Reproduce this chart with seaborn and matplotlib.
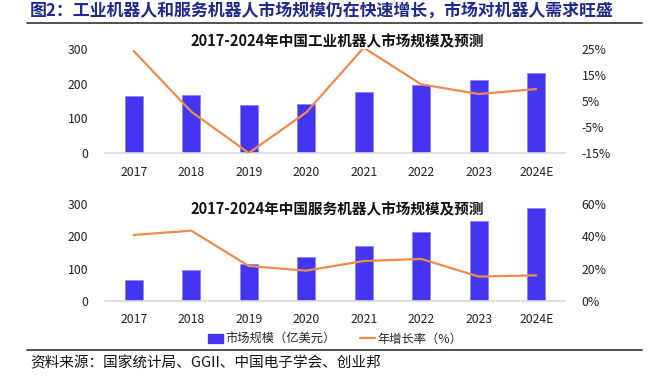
import matplotlib
matplotlib.use("Agg")
import matplotlib.pyplot as plt
import matplotlib.ticker as mticker
from matplotlib.lines import Line2D
from matplotlib.patches import Patch
import seaborn as sns

# -- data
years = ["2017", "2018", "2019", "2020", "2021", "2022", "2023", "2024E"]
ind_size = [164, 166, 138, 140, 177, 196, 210, 230]
ind_growth = [24.2, 0.9, -15.0, 0.6, 25.5, 11.4, 7.7, 9.6]
svc_size = [65, 94, 114, 136, 170, 215, 249, 288]
svc_growth = [40.9, 43.6, 21.6, 18.7, 24.7, 26.0, 15.0, 15.8]

ind_title = "2017-2024年中国工业机器人市场规模及预测"
svc_title = "2017-2024年中国服务机器人市场规模及预测"
fig_title = "图2：工业机器人和服务机器人市场规模仍在快速增长，市场对机器人需求旺盛"
source = "资料来源：国家统计局、GGII、中国电子学会、创业邦"
bar_label = "市场规模（亿美元）"
line_label = "年增长率（%）"

BAR = "#4436F0"
LINE = "#F08A4B"

sns.set_theme(style="white")
plt.rcParams["font.family"] = ["Noto Sans CJK SC", "DejaVu Sans"]
plt.rcParams["axes.unicode_minus"] = False

W, H = 656, 389
fig = plt.figure(figsize=(W / 100, H / 100), dpi=100)


def panel(rect, sizes, growth, gticks, title, title_y):
    ax = fig.add_axes(rect)
    sns.barplot(x=years, y=sizes, color=BAR, width=0.32, ax=ax,
                edgecolor="#8C86F8", linewidth=0.6, saturation=1)
    ax.set_ylim(0, 300)
    ax.set_yticks([0, 100, 200, 300])
    ax.set_xlim(-0.5, 7.5)
    ax2 = ax.twinx()
    sns.lineplot(x=list(range(len(years))), y=growth, color=LINE,
                 linewidth=1.6, ax=ax2)
    ax2.set_ylim(gticks[0], gticks[-1])
    ax2.set_yticks(gticks)
    ax2.yaxis.set_major_formatter(mticker.FuncFormatter(lambda v, p: f"{v:.0f}%"))
    for a in (ax, ax2):
        for s in ("top", "left", "right"):
            a.spines[s].set_visible(False)
        a.spines["bottom"].set_color("#D9D9D9")
        a.spines["bottom"].set_linewidth(1.2)
        a.tick_params(axis="both", length=0, labelsize=8.8, colors="#222222")
        a.set_xlabel("")
        a.set_ylabel("")
    ax.tick_params(axis="y", pad=12)
    ax.tick_params(axis="x", pad=9)
    ax2.tick_params(axis="y", pad=12)
    ax2.spines["bottom"].set_visible(False)
    fig.text(337 / W, 1 - title_y / H, title, ha="center", va="center",
             fontsize=10.5, fontweight="bold", color="#111111")
    return ax


panel([105 / W, 1 - 153 / H, 460 / W, 104 / H], ind_size, ind_growth,
      [-15, -5, 5, 15, 25], ind_title, 41)
panel([105 / W, 1 - 300.7 / H, 460 / W, 96.4 / H], svc_size, svc_growth,
      [0, 20, 40, 60], svc_title, 209)

# main title and rules
fig.text(30 / W, 1 - 11 / H, fig_title, ha="left", va="center",
         fontsize=12.2, fontweight="bold", color="#1F2A8C")
fig.add_artist(Line2D([27 / W, 642 / W], [1 - 22.7 / H] * 2,
                      color="#333333", linewidth=1.2))
fig.add_artist(Line2D([27 / W, 642 / W], [1 - 350 / H] * 2,
                      color="#333333", linewidth=1.2))

handles = [Patch(facecolor=BAR, edgecolor=BAR, label=bar_label),
           Line2D([0], [0], color=LINE, linewidth=1.6, label=line_label)]
fig.legend(handles=handles, loc="center", bbox_to_anchor=(335 / W, 1 - 339 / H),
           ncol=2, frameon=False, fontsize=8.8, handlelength=1.2,
           handletextpad=0.2, columnspacing=2.0)

fig.text(30 / W, 1 - 363 / H, source, ha="left", va="center",
         fontsize=10.5, color="#111111")

fig.savefig("out.png", dpi=100)
